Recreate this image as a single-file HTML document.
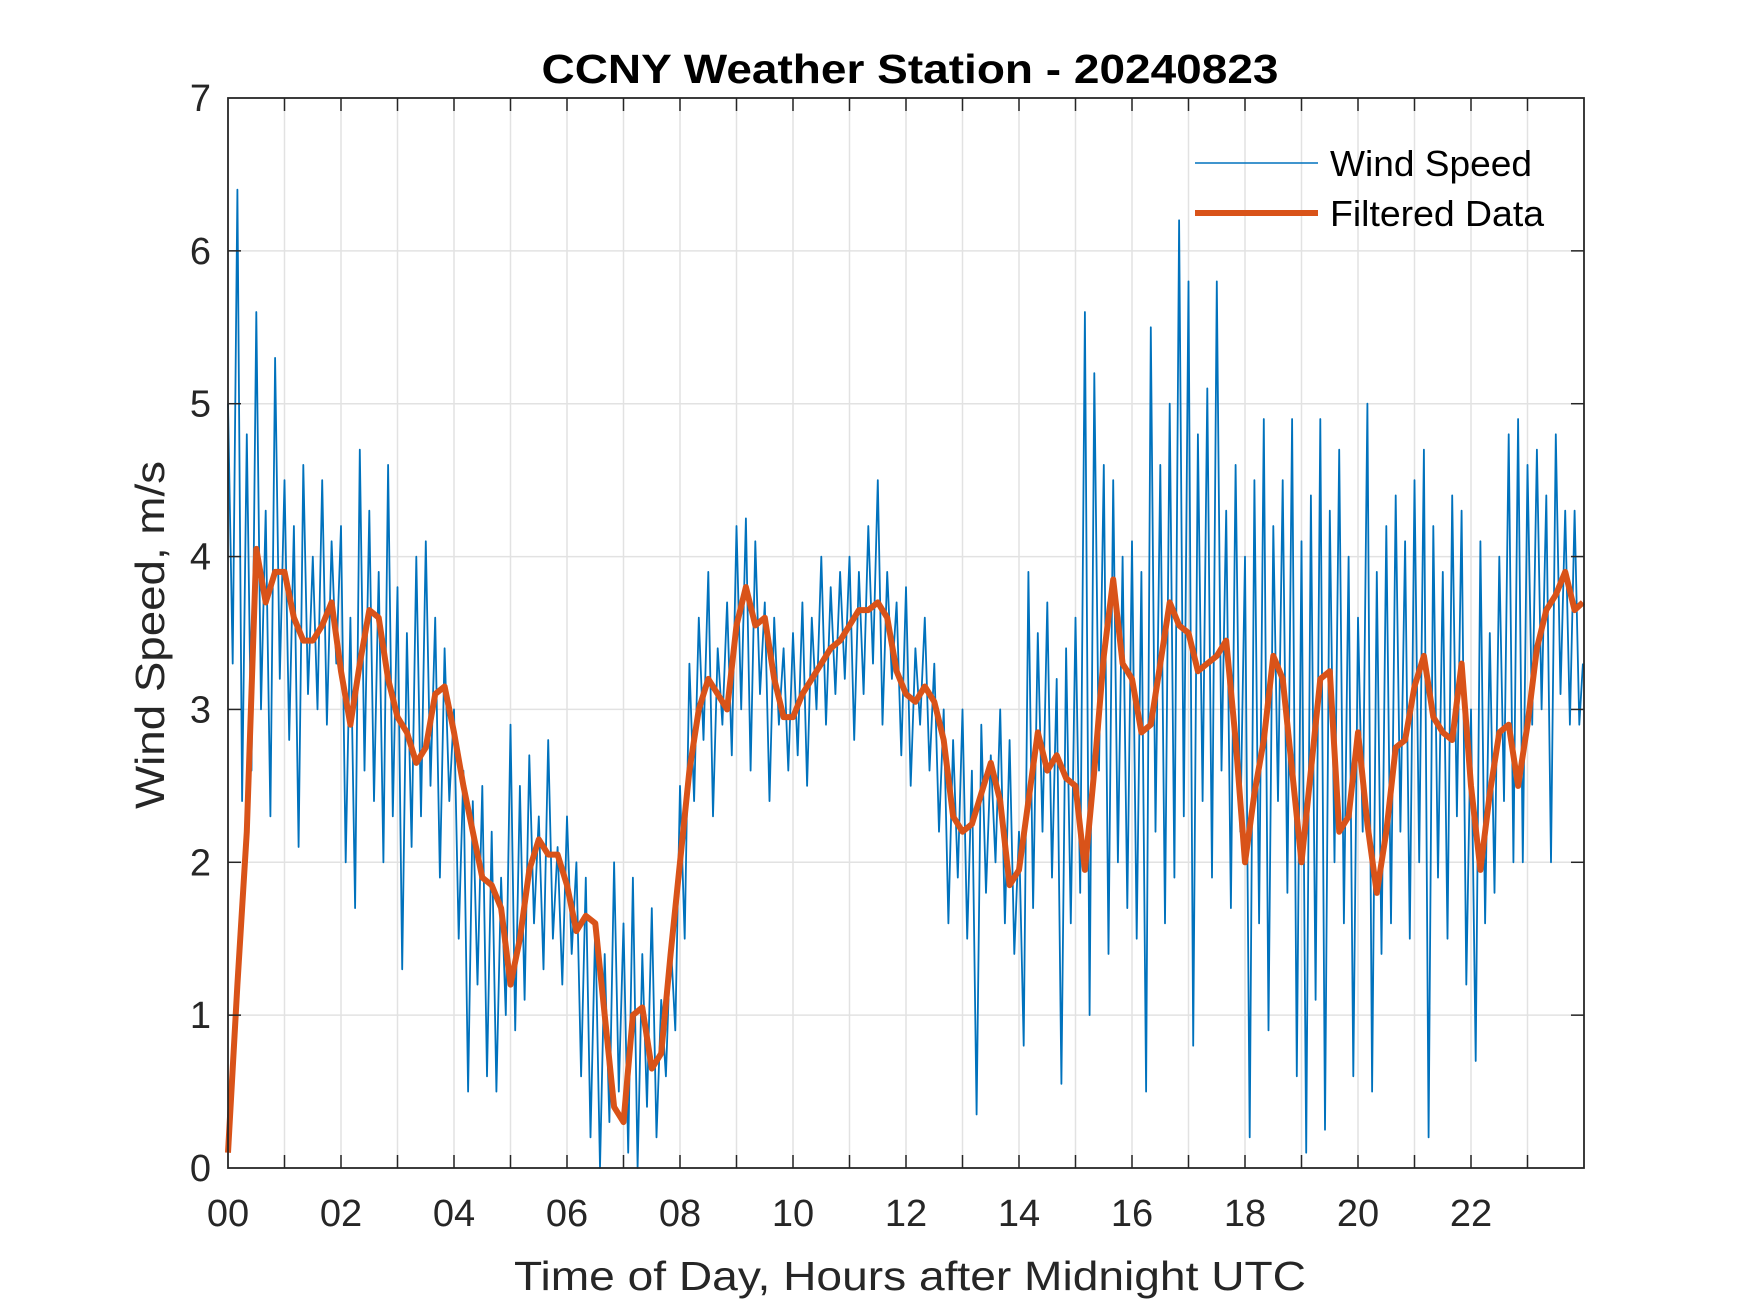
<!DOCTYPE html>
<html><head><meta charset="utf-8"><style>
html,body{margin:0;padding:0;background:#fff;}
svg{display:block;}
text{font-family:"Liberation Sans",Arial,sans-serif;}
</style></head><body>
<svg id="chart" width="1750" height="1313" viewBox="0 0 1750 1313" xmlns="http://www.w3.org/2000/svg">
<rect x="0" y="0" width="1750" height="1313" fill="#fff"/>
<g id="grid"></g>
<g id="series"></g>
<g id="axes"></g>
<text x="910" y="83" text-anchor="middle" font-size="41" font-weight="bold" fill="#000" textLength="737" lengthAdjust="spacingAndGlyphs">CCNY Weather Station - 20240823</text>
<text x="910" y="1290" text-anchor="middle" font-size="41" fill="#262626" textLength="792" lengthAdjust="spacingAndGlyphs">Time of Day, Hours after Midnight UTC</text>
<text x="0" y="0" transform="translate(164,635) rotate(-90)" text-anchor="middle" font-size="41" fill="#262626" textLength="348" lengthAdjust="spacingAndGlyphs">Wind Speed, m/s</text>
<g>
<line x1="1195" y1="163" x2="1318" y2="163" stroke="#0072BD" stroke-width="1.5"/>
<text x="1330" y="176" font-size="36" fill="#000" textLength="202" lengthAdjust="spacingAndGlyphs">Wind Speed</text>
<line x1="1195" y1="213" x2="1318" y2="213" stroke="#D95319" stroke-width="6"/>
<text x="1330" y="226" font-size="36" fill="#000" textLength="214" lengthAdjust="spacingAndGlyphs">Filtered Data</text>
</g>
</svg>
<script>
const xTickLabels = ["00","02","04","06","08","10","12","14","16","18","20","22"];
const yTickLabels = ["0","1","2","3","4","5","6","7"];
const windSpeed = [
5.0,3.3,6.4,2.4,4.8,2.6,5.6,3.0,4.3,2.3,5.3,3.2,
4.5,2.8,4.2,2.1,4.6,3.1,4.0,3.0,4.5,2.9,4.1,3.3,
4.2,2.0,3.6,1.7,4.7,2.6,4.3,2.4,3.9,2.0,4.6,2.3,
3.8,1.3,3.5,2.1,4.0,2.3,4.1,2.5,3.6,1.9,3.4,2.4,
3.0,1.5,2.6,0.5,2.4,1.2,2.5,0.6,2.2,0.5,1.9,1.0,
2.9,0.9,2.5,1.1,2.7,1.6,2.3,1.3,2.8,1.5,2.1,1.2,
2.3,1.4,2.0,0.6,1.9,0.2,1.6,0.0,1.4,0.3,2.0,0.5,
1.6,0.1,1.9,0.0,1.4,0.4,1.7,0.2,1.1,0.6,1.5,0.9,
2.5,1.5,3.3,2.4,3.6,2.8,3.9,2.3,3.4,2.9,3.7,2.7,
4.2,3.0,4.25,2.6,4.1,3.1,3.7,2.4,3.6,2.9,3.4,2.6,
3.5,2.7,3.7,2.5,3.6,3.0,4.0,2.9,3.8,3.1,3.9,3.2,
4.0,2.8,3.9,3.1,4.2,3.3,4.5,2.9,3.9,3.2,3.7,2.7,
3.8,2.5,3.4,2.9,3.6,2.6,3.3,2.2,3.0,1.6,2.8,1.9,
3.0,1.5,2.6,0.35,2.9,1.8,2.7,2.0,3.0,1.6,2.8,1.4,
2.2,0.8,3.9,1.7,3.5,2.2,3.7,1.9,3.2,0.55,3.4,1.6,
3.6,1.8,5.6,1.0,5.2,2.6,4.6,1.4,4.5,2.0,4.0,1.7,
4.1,1.5,3.9,0.5,5.5,2.2,4.6,1.6,5.0,1.9,6.2,2.3,
5.8,0.8,4.8,2.4,5.1,1.9,5.8,2.6,4.3,1.7,4.6,2.2,
4.0,0.2,4.5,1.6,4.9,0.9,4.2,2.4,4.5,1.8,4.9,0.6,
4.1,0.1,4.4,1.1,4.9,0.25,4.3,2.0,4.7,1.6,4.0,0.6,
3.6,2.2,5.0,0.5,3.9,1.4,4.2,1.6,4.4,2.2,4.1,1.5,
4.5,2.0,4.7,0.2,4.2,1.9,3.9,1.5,4.4,2.3,4.3,1.2,
3.0,0.7,4.1,1.6,3.5,1.8,4.0,2.4,4.8,2.0,4.9,2.0,
4.6,2.9,4.7,3.0,4.4,2.0,4.8,3.1,4.3,2.9,4.3,2.9,3.3];
const filtered = [
0.1,1.2,2.2,4.05,3.7,3.9,
3.9,3.6,3.45,3.45,3.55,3.7,
3.25,2.9,3.3,3.65,3.6,3.2,
2.95,2.85,2.65,2.75,3.1,3.15,
2.85,2.5,2.2,1.9,1.85,1.7,
1.2,1.5,1.95,2.15,2.05,2.05,
1.85,1.55,1.65,1.6,1.0,0.4,
0.3,1.0,1.05,0.65,0.75,1.4,
2.0,2.6,3.0,3.2,3.1,3.0,
3.55,3.8,3.55,3.6,3.2,2.95,
2.95,3.1,3.2,3.3,3.4,3.45,
3.55,3.65,3.65,3.7,3.6,3.25,
3.1,3.05,3.15,3.05,2.8,2.3,
2.2,2.25,2.45,2.65,2.4,1.85,
1.95,2.4,2.85,2.6,2.7,2.55,
2.5,1.95,2.6,3.35,3.85,3.3,
3.2,2.85,2.9,3.3,3.7,3.55,
3.5,3.25,3.3,3.35,3.45,2.8,
2.0,2.45,2.8,3.35,3.2,2.6,
2.0,2.6,3.2,3.25,2.2,2.3,
2.85,2.25,1.8,2.2,2.75,2.8,
3.15,3.35,2.95,2.85,2.8,3.3,
2.5,1.95,2.45,2.85,2.9,2.5,
2.9,3.4,3.65,3.75,3.9,3.65,3.7];

const L=228,R=1584,T=98,B=1168,XMAX=24,YMAX=7;
const NS='http://www.w3.org/2000/svg';
function xs(h){return L+(R-L)*h/XMAX;}
function ys(v){return B-(B-T)*v/YMAX;}
function mk(tag,attrs,parent){const e=document.createElementNS(NS,tag);for(const k in attrs)e.setAttribute(k,attrs[k]);parent.appendChild(e);return e;}
const grid=document.getElementById('grid'),axes=document.getElementById('axes'),series=document.getElementById('series');
for(let h=1;h<XMAX;h++){
  const g=mk('line',{x1:xs(h),y1:T,x2:xs(h),y2:B,stroke:'#e2e2e2','stroke-width':1.5},grid);
  
  
  const t1=mk('line',{x1:xs(h),y1:B,x2:xs(h),y2:B-13,stroke:'#262626','stroke-width':1.5},axes);
  
  
  const t2=mk('line',{x1:xs(h),y1:T,x2:xs(h),y2:T+13,stroke:'#262626','stroke-width':1.5},axes);
  
  
}
for(let v=1;v<YMAX;v++){
  const g=mk('line',{x1:L,y1:ys(v),x2:R,y2:ys(v),stroke:'#e2e2e2','stroke-width':1.5},grid);
  
  
  const t1=mk('line',{x1:L,y1:ys(v),x2:L+13,y2:ys(v),stroke:'#262626','stroke-width':1.5},axes);
  
  
  const t2=mk('line',{x1:R,y1:ys(v),x2:R-13,y2:ys(v),stroke:'#262626','stroke-width':1.5},axes);
  
  
}
xTickLabels.forEach((lab,i)=>{
  const t=mk('text',{x:xs(i*2),y:1226,'text-anchor':'middle','font-size':38,fill:'#262626'},axes);
  t.textContent=lab;
  
  
});
yTickLabels.forEach((lab,i)=>{
  const t=mk('text',{x:211,y:ys(i)+13,'text-anchor':'end','font-size':38,fill:'#262626'},axes);
  t.textContent=lab;
  
  
});
const box=mk('rect',{x:L,y:T,width:R-L,height:B-T,fill:'none',stroke:'#262626','stroke-width':1.8},axes);


const dtw=1/12;
const wp=windSpeed.map((v,i)=>xs(Math.min(i*dtw,23.98)).toFixed(1)+','+ys(v).toFixed(1)).join(' ');
const wl=mk('polyline',{points:wp,fill:'none',stroke:'#0072BD','stroke-width':1.8,'stroke-linejoin':'round'},series);


const dtf=1/6;
const fp=filtered.map((v,i)=>xs(Math.min(i*dtf,23.98)).toFixed(1)+','+ys(v).toFixed(1)).join(' ');
const fl=mk('polyline',{points:fp,fill:'none',stroke:'#D95319','stroke-width':6,'stroke-linejoin':'round'},series);


</script>
</body></html>
